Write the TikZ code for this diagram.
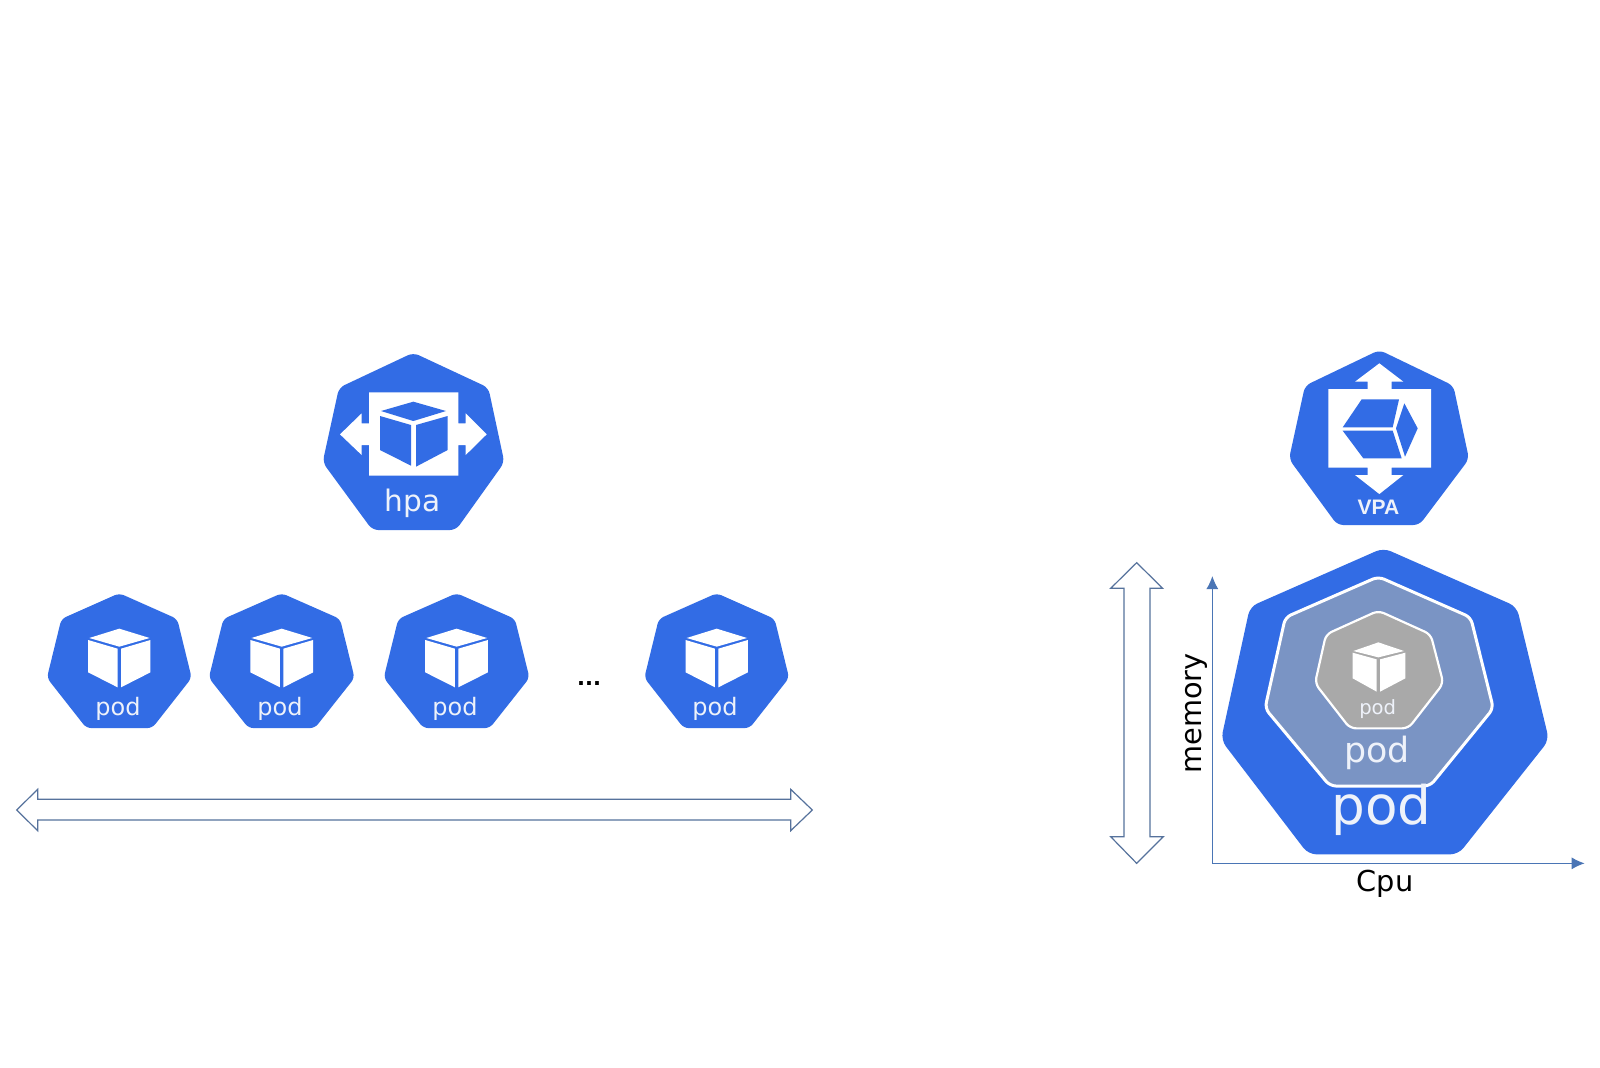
\documentclass[tikz,border=0pt]{standalone}
\usepackage{fontspec}
\setmainfont{DejaVu Sans}
\newfontfamily\vpafont{Liberation Sans}
\usetikzlibrary{arrows.meta}
\definecolor{kblue}{HTML}{326CE5}
\definecolor{kmid}{HTML}{7A94C4}
\definecolor{kgray}{HTML}{A9A9A9}
\definecolor{axisc}{HTML}{4A75B5}
\definecolor{hollowc}{HTML}{56729C}
\definecolor{palew}{HTML}{EEF2FA}
\newcommand{\fs}[1]{\fontsize{#1}{#1}\selectfont}
\newcommand{\podshape}[3]{%
  \begin{scope}[shift={(#1,#2)},xscale=#3,yscale=133.3]
    \fill[kblue,rounded corners=2.5pt] (0,-.006) -- (.405,.187) -- (.506,.629) -- (.23,1.006) -- (-.23,1.006) -- (-.506,.629) -- (-.405,.187) -- cycle;
    \fill[white] (0,.26) -- (.212,.33) -- (0,.395) -- (-.21,.33) -- cycle;
    \fill[white] (-.218,.345) -- (-.012,.41) -- (-.012,.70) -- (-.218,.5875) -- cycle;
    \fill[white] (.012,.41) -- (.218,.345) -- (.218,.5875) -- (.012,.70) -- cycle;
  \end{scope}}
\tikzset{
  lbl/.style={inner sep=0pt,outer sep=0pt,text=palew},
  blk/.style={inner sep=0pt,outer sep=0pt,text=black},
  hollow/.style={draw=hollowc,line width=.6pt,fill=white,line join=miter},
  axisline/.style={draw=axisc,line width=.6pt,-{Latex[length=6.5pt,width=6pt]}},
  zoomhpa/.style={shift={(310,340)},x=.16667pt,y=-.16667pt},
  zoomvpa/.style={shift={(1270,340)},x=.16667pt,y=-.16667pt},
  zoomr/.style={shift={(1100,540)},x=.16667pt,y=-.16667pt},
}
\begin{document}
\begin{tikzpicture}[x=.5pt,y=-.5pt]
\useasboundingbox (0,0) rectangle (1600,1067);
\fill[white] (0,0) rectangle (1600,1067);

% pods row
\podshape{119.3}{594}{143}
\podshape{281.7}{594}{144}
\podshape{456.6}{594}{144}
\podshape{716.7}{594}{143}
\foreach \n/\x in {a/118,b/280,c/455,d/715}{
  \node[lbl,anchor=base] (pod\n) at (\x,715) {\fs{12}pod};
}
\node[blk,anchor=base] (dots) at (589,685) {\fs{10.5}\textbf{...}};

% hpa
\begin{scope}[zoomhpa]
  \fill[kblue,rounded corners=3pt] (310,38) -- (535,143) -- (583,367) -- (438,570) -- (187,570) -- (38,367) -- (87,143) -- cycle;
  \fill[white] (177,157) -- (445,157) -- (445,250) -- (467,250) -- (467,220) -- (530,283) -- (467,345) -- (467,315) -- (445,315) -- (445,407) -- (177,407) -- (177,315) -- (155,315) -- (155,345) -- (90,283) -- (155,220) -- (155,250) -- (177,250) -- cycle;
  \fill[kblue] (310,185) -- (408,213) -- (310,243) -- (213,213) -- cycle;
  \fill[kblue] (210,228) -- (303,255) -- (303,377) -- (210,330) -- cycle;
  \fill[kblue] (318,255) -- (413,228) -- (413,330) -- (318,380) -- cycle;
  \node[lbl,anchor=base] (hpa) at (307,513) {\fs{14.8}hpa};
\end{scope}

% vpa
\begin{scope}[zoomvpa]
  \fill[kblue,rounded corners=3pt] (328,30) -- (550,137) -- (597,357) -- (448,555) -- (202,555) -- (57,357) -- (105,137) -- cycle;
  \fill[white] (175,147) -- (293,147) -- (293,125) -- (255,125) -- (328,70) -- (400,125) -- (365,125) -- (365,147) -- (483,147) -- (483,383) -- (365,383) -- (365,405) -- (400,405) -- (328,462) -- (255,405) -- (293,405) -- (293,383) -- (175,383) -- cycle;
  \fill[kblue] (275,178) -- (387,178) -- (368,262) -- (218,262) -- cycle;
  \fill[kblue] (218,272) -- (368,272) -- (395,355) -- (280,355) -- cycle;
  \fill[kblue] (403,190) -- (443,265) -- (405,350) -- (378,265) -- cycle;
  \node[inner sep=0pt,text=palew,anchor=base] (vpa) at (325,524) {\vpafont\fs{10.5}\textbf{VPA}};
\end{scope}

% nested pods
\begin{scope}[zoomr]
  \fill[kblue,rounded corners=4pt] (850,24) -- (1250,200) -- (1347,600) -- (1075,943) -- (625,943) -- (363,600) -- (450,200) -- cycle;
  \path[fill=kmid,draw=white,line width=1.5pt,rounded corners=3pt] (835,110) -- (1112,232) -- (1180,505) -- (990,738) -- (690,738) -- (495,505) -- (556,232) -- cycle;
  \path[fill=kgray,draw=white,line width=1.1pt,rounded corners=3pt] (835,212) -- (992,283) -- (1030,430) -- (925,565) -- (750,565) -- (645,430) -- (678,283) -- cycle;
  \fill[white] (835,307) -- (912,333) -- (835,352) -- (760,333) -- cycle;
  \fill[white] (758,338) -- (830,358) -- (830,455) -- (758,415) -- cycle;
  \fill[white] (840,358) -- (916,338) -- (916,415) -- (840,455) -- cycle;
  \node[lbl,anchor=base] (podsmall) at (833,524) {\fs{9.8}pod};
  \node[lbl,anchor=base] (podmid) at (831,666) {\fs{17.4}pod};
  \node[lbl,anchor=base] (podbig) at (845,853) {\fs{26.6}pod};
  \node[blk,anchor=base] (cpu) at (855,1055) {\fs{14.4}Cpu};
  \node[blk,rotate=90,anchor=base] (memory) at (303,520) {\fs{14.4}memory};
  \coordinate (origin) at (337,970);
  \coordinate (ymax) at (337,108);
  \coordinate (xmax) at (1454,970);
  \draw[axisline] (origin) -- (ymax);
  \draw[axisline] (origin) -- (xmax);
  \path[hollow] (110,68) -- (188,145) -- (150,145) -- (150,890) -- (190,890) -- (110,970) -- (32,890) -- (72,890) -- (72,145) -- (32,145) -- cycle;
\end{scope}

% horizontal double arrow
\path[hollow] (16.7,810) -- (37.7,789.3) -- (37.7,799.3) -- (790.7,799.3) -- (790.7,789.3) -- (812.3,810) -- (790.7,830.7) -- (790.7,820) -- (37.7,820) -- (37.7,830.7) -- cycle;
\end{tikzpicture}
\end{document}
